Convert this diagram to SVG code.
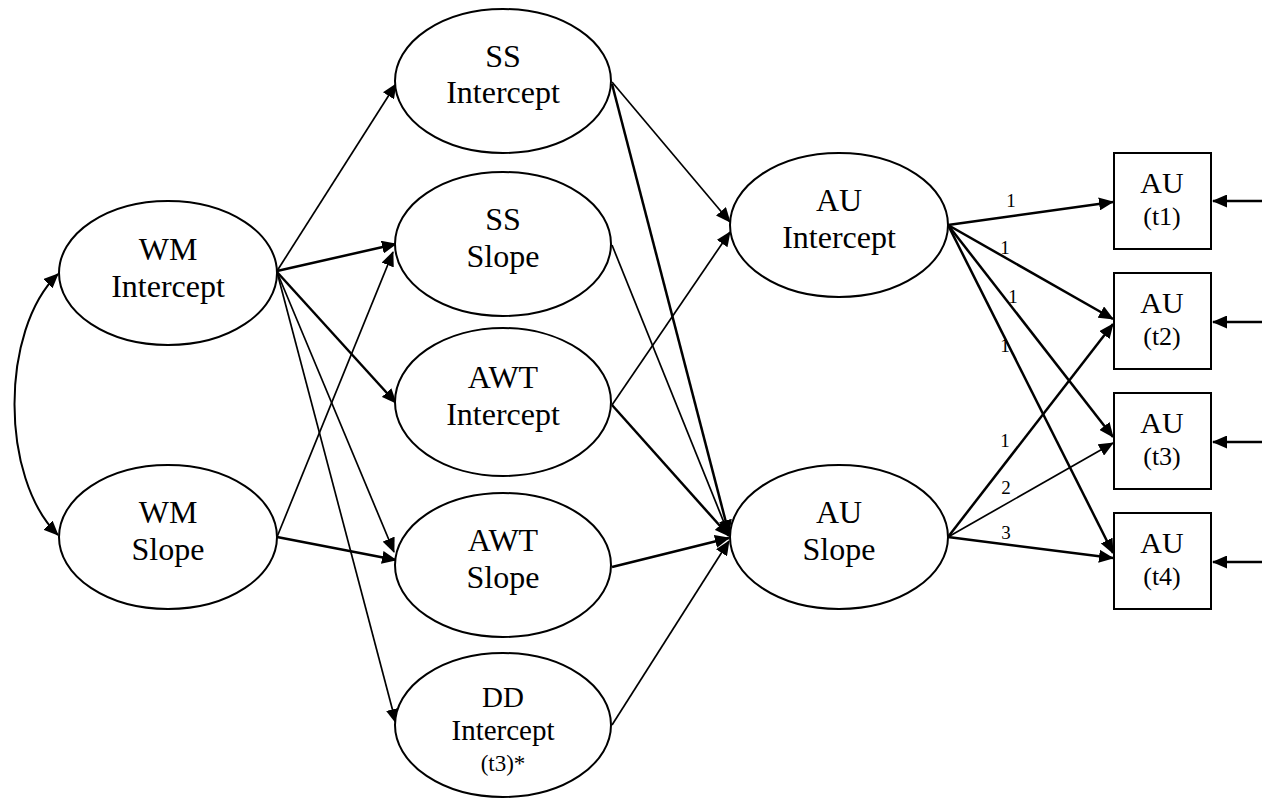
<svg xmlns="http://www.w3.org/2000/svg" width="1269" height="802" viewBox="0 0 1269 802">
  <style>
    .node ellipse, .node rect { fill: #ffffff; stroke: #000000; stroke-width: 2; }
    .lbl { font-family: "Liberation Serif", "Times New Roman", serif; font-size: 32px; fill: #000000; text-anchor: middle; }
    .lbl-s { font-size: 29px; }
    .lbl-t { font-size: 23px; }
    .box-a { font-size: 30px; }
    .box-b { font-size: 26px; }
    .w { font-family: "Liberation Serif", "Times New Roman", serif; font-size: 19px; fill: #000000; text-anchor: middle; }
    .edge { fill: none; stroke: #000000; stroke-width: 1.7; marker-end: url(#head); }
    .thick { stroke-width: 2.5; }
    .cov { fill: none; stroke: #000000; stroke-width: 2; marker-start: url(#head); marker-end: url(#head); }
  </style>
  <defs>
    <marker id="head" viewBox="0 0 15 13" refX="14" refY="6.5" markerWidth="15" markerHeight="13" markerUnits="userSpaceOnUse" orient="auto-start-reverse">
      <path d="M0,0 L15,6.5 L0,13 z" fill="#000000"/>
    </marker>
  </defs>
  <rect width="1269" height="802" fill="#ffffff"/>

  <!-- connectors -->
  <g id="connectors">
    <!-- covariance between WM factors -->
    <path class="cov" d="M58,274 C0,330 0,478 58,535"/>
    <!-- WM Intercept paths -->
    <line class="edge" x1="277" y1="271" x2="396" y2="84"/>
    <line class="edge thick" x1="277" y1="271" x2="396" y2="244"/>
    <line class="edge thick" x1="277" y1="272" x2="396" y2="403"/>
    <line class="edge" x1="277" y1="272" x2="394" y2="552"/>
    <line class="edge" x1="277" y1="272" x2="396" y2="723"/>
    <!-- WM Slope paths -->
    <line class="edge" x1="277" y1="537" x2="393" y2="252"/>
    <line class="edge thick" x1="277" y1="537" x2="396" y2="560"/>
    <!-- mediators to AU Intercept -->
    <line class="edge" x1="612" y1="82" x2="730" y2="222"/>
    <line class="edge" x1="612" y1="405" x2="730" y2="232"/>
    <!-- mediators to AU Slope -->
    <line class="edge thick" x1="612" y1="84" x2="729" y2="534"/>
    <line class="edge" x1="612" y1="245" x2="729" y2="535"/>
    <line class="edge thick" x1="612" y1="405" x2="729" y2="536"/>
    <line class="edge thick" x1="612" y1="567" x2="729" y2="538"/>
    <line class="edge" x1="612" y1="725" x2="729" y2="541"/>
    <!-- loadings of AU growth factors -->
    <line class="edge thick" x1="948" y1="225" x2="1113" y2="202"/>
    <line class="edge thick" x1="948" y1="225" x2="1113" y2="319"/>
    <line class="edge thick" x1="948" y1="225" x2="1113" y2="437"/>
    <line class="edge thick" x1="948" y1="225" x2="1113" y2="553"/>
    <line class="edge thick" x1="948" y1="537" x2="1113" y2="324"/>
    <line class="edge" x1="948" y1="537" x2="1113" y2="443"/>
    <line class="edge thick" x1="948" y1="537" x2="1113" y2="558"/>
    <!-- residuals -->
    <line class="edge thick" x1="1262" y1="201" x2="1213" y2="201"/>
    <line class="edge thick" x1="1262" y1="322" x2="1213" y2="322"/>
    <line class="edge thick" x1="1262" y1="442" x2="1213" y2="442"/>
    <line class="edge thick" x1="1262" y1="562" x2="1213" y2="562"/>
    <!-- loading values -->
    <text class="w" x="1011" y="207">1</text>
    <text class="w" x="1005" y="254">1</text>
    <text class="w" x="1013" y="303">1</text>
    <text class="w" x="1005" y="352">1</text>
    <text class="w" x="1005" y="447">1</text>
    <text class="w" x="1006" y="494">2</text>
    <text class="w" x="1006" y="539">3</text>
  </g>

  <!-- predictors -->
  <g id="wm-intercept" class="node">
    <ellipse cx="168" cy="273" rx="109" ry="72"/>
    <text class="lbl" x="168" y="260">WM</text>
    <text class="lbl" x="168" y="297">Intercept</text>
  </g>
  <g id="wm-slope" class="node">
    <ellipse cx="168" cy="537" rx="109" ry="72"/>
    <text class="lbl" x="168" y="523">WM</text>
    <text class="lbl" x="168" y="560">Slope</text>
  </g>

  <!-- mediators -->
  <g id="ss-intercept" class="node">
    <ellipse cx="503" cy="81" rx="108" ry="72"/>
    <text class="lbl" x="503" y="67">SS</text>
    <text class="lbl" x="503" y="103">Intercept</text>
  </g>
  <g id="ss-slope" class="node">
    <ellipse cx="503" cy="244" rx="108" ry="72"/>
    <text class="lbl" x="503" y="230">SS</text>
    <text class="lbl" x="503" y="267">Slope</text>
  </g>
  <g id="awt-intercept" class="node">
    <ellipse cx="503" cy="402" rx="108" ry="74"/>
    <text class="lbl" x="503" y="388">AWT</text>
    <text class="lbl" x="503" y="425">Intercept</text>
  </g>
  <g id="awt-slope" class="node">
    <ellipse cx="503" cy="565" rx="108" ry="72"/>
    <text class="lbl" x="503" y="551">AWT</text>
    <text class="lbl" x="503" y="588">Slope</text>
  </g>
  <g id="dd-intercept" class="node">
    <ellipse cx="503" cy="725" rx="108" ry="72"/>
    <text class="lbl lbl-s" x="503" y="707">DD</text>
    <text class="lbl lbl-s" x="503" y="740">Intercept</text>
    <text class="lbl lbl-t" x="503" y="771">(t3)*</text>
  </g>

  <!-- outcome growth factors -->
  <g id="au-intercept" class="node">
    <ellipse cx="839" cy="225" rx="109" ry="72"/>
    <text class="lbl" x="839" y="211">AU</text>
    <text class="lbl" x="839" y="248">Intercept</text>
  </g>
  <g id="au-slope" class="node">
    <ellipse cx="839" cy="537" rx="109" ry="72"/>
    <text class="lbl" x="839" y="523">AU</text>
    <text class="lbl" x="839" y="560">Slope</text>
  </g>

  <!-- observed AU measures -->
  <g id="au-t1" class="node">
    <rect x="1114" y="153" width="97" height="96"/>
    <text class="lbl box-a" x="1162" y="193">AU</text>
    <text class="lbl box-b" x="1162" y="225">(t1)</text>
  </g>
  <g id="au-t2" class="node">
    <rect x="1114" y="273" width="97" height="96"/>
    <text class="lbl box-a" x="1162" y="313">AU</text>
    <text class="lbl box-b" x="1162" y="345">(t2)</text>
  </g>
  <g id="au-t3" class="node">
    <rect x="1114" y="393" width="97" height="96"/>
    <text class="lbl box-a" x="1162" y="433">AU</text>
    <text class="lbl box-b" x="1162" y="465">(t3)</text>
  </g>
  <g id="au-t4" class="node">
    <rect x="1114" y="513" width="97" height="96"/>
    <text class="lbl box-a" x="1162" y="553">AU</text>
    <text class="lbl box-b" x="1162" y="585">(t4)</text>
  </g>
</svg>
